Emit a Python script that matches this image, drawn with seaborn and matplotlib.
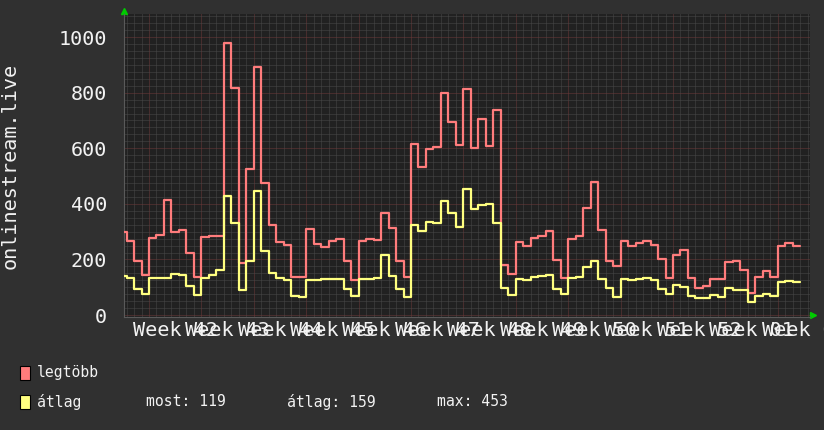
import numpy as np
import pandas as pd
import matplotlib.pyplot as plt
import seaborn as sns
from matplotlib.ticker import MultipleLocator
from matplotlib.patches import Rectangle

# napi értékek, az első nap 4 nappal a 42. hét előtt
first_day = -4
legtobb = [300, 267, 195, 144,
           278, 287, 414, 297, 305, 225, 138,
           281, 285, 285, 980, 817, 189, 526,
           893, 476, 325, 264, 253, 138, 138,
           311, 257, 245, 267, 275, 193, 127,
           267, 275, 271, 368, 313, 195, 138,
           615, 531, 598, 603, 800, 695, 613,
           814, 601, 706, 608, 739, 181, 147,
           264, 249, 277, 285, 303, 198, 133,
           275, 285, 385, 480, 306, 196, 176,
           267, 248, 258, 267, 252, 201, 133,
           217, 233, 134, 98, 105, 131, 131,
           190, 195, 161, 79, 138, 157, 138,
           248, 258, 249]
atlag = [140, 132, 95, 76,
         133, 133, 133, 147, 144, 104, 72,
         133, 144, 162, 428, 332, 90, 193,
         445, 231, 152, 132, 126, 70, 66,
         125, 125, 131, 131, 131, 92, 70,
         131, 131, 134, 216, 141, 92, 66,
         325, 302, 336, 330, 411, 366, 317,
         453, 381, 397, 400, 330, 98, 72,
         128, 125, 138, 141, 145, 94, 77,
         134, 137, 174, 195, 131, 96, 66,
         131, 125, 128, 134, 126, 92, 77,
         108, 101, 70, 62, 62, 72, 66,
         96, 91, 91, 48, 70, 76, 70,
         119, 124, 119]
weeks = ['Week 42', 'Week 43', 'Week 44', 'Week 45', 'Week 46', 'Week 47',
         'Week 48', 'Week 49', 'Week 50', 'Week 51', 'Week 52', 'Week 01', 'Week 02']
series_names = ['legtöbb', 'átlag']
colors = ['#ff7c7c', '#ffff80']
summary = ['most: 119', 'átlag: 159', 'max: 453']

# hosszú formátum, lépcsős rajzhoz az utolsó értéket megismételjük a nap végén
days = np.arange(first_day, first_day + len(legtobb) + 1)
df = pd.concat([
    pd.DataFrame({'nap': days, 'ertek': legtobb + [legtobb[-1]], 'sor': series_names[0]}),
    pd.DataFrame({'nap': days, 'ertek': atlag + [atlag[-1]], 'sor': series_names[1]}),
])

sns.set_theme(style='dark')
plt.rcParams['font.family'] = ['DejaVu Sans Mono', 'DejaVu Sans']
txt = '#f2f2f2'

fig = plt.figure(figsize=(8.24, 4.30), dpi=100, facecolor='#303030')
ax = fig.add_axes([124 / 824, 1 - 317 / 430, 686 / 824, 303 / 430])
ax.set_facecolor('#212121')

sns.lineplot(data=df, x='nap', y='ertek', hue='sor', palette=colors,
             drawstyle='steps-post', linewidth=1.6, errorbar=None,
             legend=False, ax=ax, zorder=3)

ax.set_xlim(-3.34, 88.3)
ax.set_ylim(-7, 1083)
ax.xaxis.set_major_locator(MultipleLocator(7))
ax.xaxis.set_minor_locator(MultipleLocator(1))
ax.yaxis.set_major_locator(MultipleLocator(200))
ax.yaxis.set_minor_locator(MultipleLocator(25))
ax.grid(which='minor', color='#4a4a4a', linestyle=(0, (1, 1)), linewidth=0.72)
ax.grid(which='major', color='#6e3a3a', linestyle=(0, (1, 1)), linewidth=0.72)
ax.set_axisbelow(True)

ax.tick_params(which='both', length=0)
ax.tick_params(axis='y', labelsize=14.5, labelcolor=txt, pad=12)
ax.tick_params(axis='x', labelbottom=False)
ax.set_xlabel('')
ax.set_ylabel('onlinestream.live', fontsize=14.5, color=txt)
ax.yaxis.set_label_coords(-0.152, 0.5)

for side in ['top', 'right']:
    ax.spines[side].set_visible(False)
for side in ['left', 'bottom']:
    ax.spines[side].set_color('#5a5a5a')
    ax.spines[side].set_linewidth(0.8)

# hét feliratok a hetek közepén (az eredetihez hasonlóan egymásra csúsznak)
for i, w in enumerate(weeks):
    ax.text(i * 7 + 3.5, -0.045, w, transform=ax.get_xaxis_transform(),
            ha='center', va='center', fontsize=14.5, color=txt, clip_on=False)

# zöld nyilak a tengelyek végén
ax.plot([0], [1.01], marker='^', ms=5, color='#00cc00', transform=ax.transAxes, clip_on=False)
ax.plot([1.004], [0.007], marker='>', ms=5, color='#00cc00', transform=ax.transAxes, clip_on=False)

# jelmagyarázat
rows_y = [373, 402]
for name, c, y in zip(series_names, colors, rows_y):
    fig.patches.append(Rectangle((20 / 824, 1 - (y + 7) / 430), 10 / 824, 14 / 430,
                                 transform=fig.transFigure, facecolor=c,
                                 edgecolor='black', linewidth=0.8))
    fig.text(37 / 824, 1 - y / 430, name, fontsize=10.6, color=txt, va='center')
for s, x in zip(summary, [146, 287, 437]):
    fig.text(x / 824, 1 - rows_y[1] / 430, s, fontsize=10.6, color=txt, va='center')

plt.savefig('out.png', dpi=100, facecolor=fig.get_facecolor())
